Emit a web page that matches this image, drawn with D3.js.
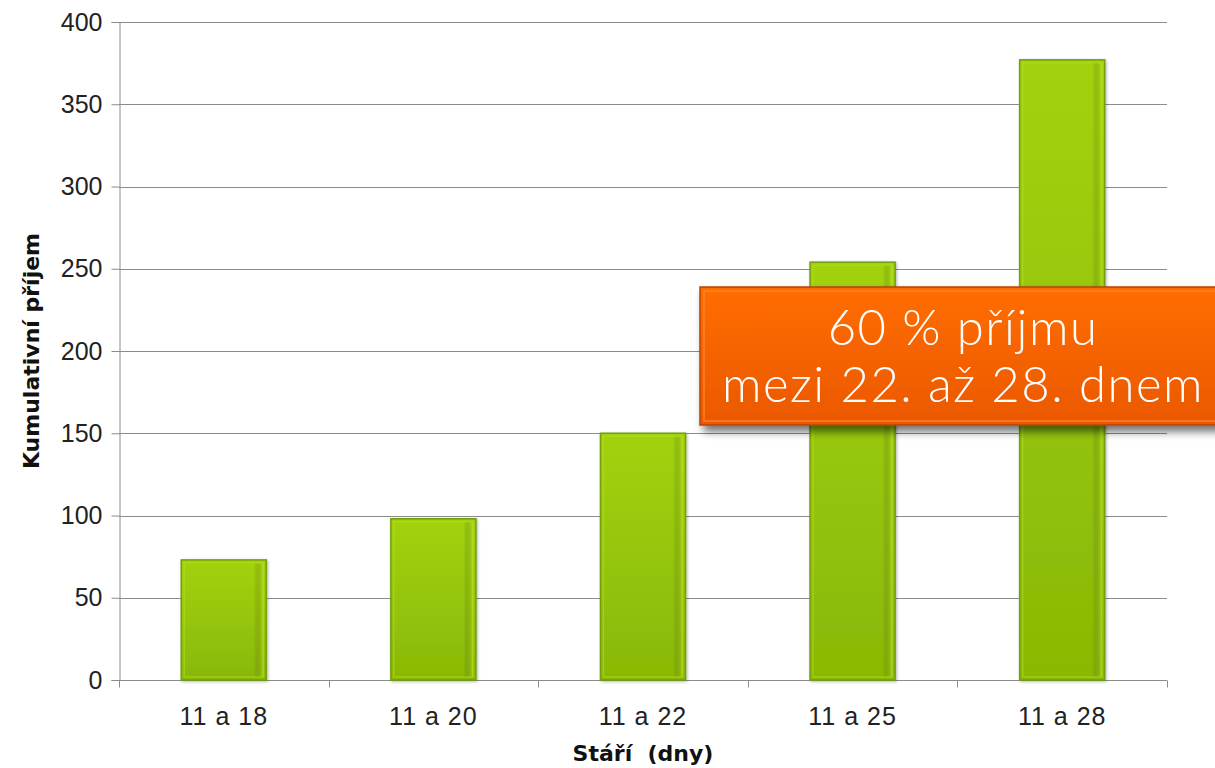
<!DOCTYPE html>
<html>
<head>
<meta charset="utf-8">
<script src="https://cdn.jsdelivr.net/npm/d3@7"></script>
<style>
  html, body { margin: 0; padding: 0; background: #fff; }
  svg { display: block; }
</style>
</head>
<body>
<svg id="chart" width="1215" height="768"></svg>
<script>
// Cumulative income by age range
const categories = ["11 a 18", "11 a 20", "11 a 22", "11 a 25", "11 a 28"];
const values = [73, 98, 150, 254, 377];
const yTicks = [0, 50, 100, 150, 200, 250, 300, 350, 400];
const calloutLines = ["60 % příjmu", "mezi 22. až 28. dnem"];

const W = 1215, H = 768;
const margin = { top: 22, right: 48, bottom: 88, left: 119 };
const tickFont = "'Liberation Sans', Arial, sans-serif";
const titleFont = "'DejaVu Sans', 'Liberation Sans', sans-serif";
const svg = d3.select("#chart");
const defs = svg.append("defs");

const barGrad = defs.append("linearGradient").attr("id", "barGrad")
  .attr("x1", 0).attr("y1", 0).attr("x2", 0).attr("y2", 1);
barGrad.append("stop").attr("offset", "0%").attr("stop-color", "#a2d20a");
barGrad.append("stop").attr("offset", "100%").attr("stop-color", "#89b806");

const sideGrad = defs.append("linearGradient").attr("id", "sideGrad")
  .attr("x1", 0).attr("y1", 0).attr("x2", 1).attr("y2", 0);
sideGrad.append("stop").attr("offset", "0%").attr("stop-color", "#000").attr("stop-opacity", 0.0);
sideGrad.append("stop").attr("offset", "88%").attr("stop-color", "#000").attr("stop-opacity", 0.0);
sideGrad.append("stop").attr("offset", "100%").attr("stop-color", "#c8f030").attr("stop-opacity", 0.45);

const boxGrad = defs.append("linearGradient").attr("id", "boxGrad")
  .attr("x1", 0).attr("y1", 0).attr("x2", 0).attr("y2", 1);
boxGrad.append("stop").attr("offset", "0%").attr("stop-color", "#ff6d05");
boxGrad.append("stop").attr("offset", "100%").attr("stop-color", "#eb5800");

const shadow = defs.append("filter").attr("id", "boxShadow")
  .attr("x", "-10%").attr("y", "-20%").attr("width", "130%").attr("height", "150%");
shadow.append("feGaussianBlur").attr("in", "SourceAlpha").attr("stdDeviation", 4).attr("result", "b");
shadow.append("feOffset").attr("in", "b").attr("dx", 4).attr("dy", 6).attr("result", "o");
shadow.append("feComponentTransfer").attr("in", "o").attr("result", "s")
  .append("feFuncA").attr("type", "linear").attr("slope", 0.55);
const m1 = shadow.append("feMerge");
m1.append("feMergeNode").attr("in", "s");
m1.append("feMergeNode").attr("in", "SourceGraphic");

const barShadow = defs.append("filter").attr("id", "barShadow")
  .attr("x", "-10%").attr("y", "-10%").attr("width", "130%").attr("height", "130%");
barShadow.append("feGaussianBlur").attr("in", "SourceAlpha").attr("stdDeviation", 1.5).attr("result", "b");
barShadow.append("feOffset").attr("in", "b").attr("dx", 1).attr("dy", 1).attr("result", "o");
barShadow.append("feComponentTransfer").attr("in", "o").attr("result", "s")
  .append("feFuncA").attr("type", "linear").attr("slope", 0.3);
const m2 = barShadow.append("feMerge");
m2.append("feMergeNode").attr("in", "s");
m2.append("feMergeNode").attr("in", "SourceGraphic");

const x = d3.scaleBand().domain(categories)
  .range([margin.left, W - margin.right]).paddingInner(0.594).paddingOuter(0.297);
const y = d3.scaleLinear().domain([0, 400]).range([H - margin.bottom, margin.top]);

// Gridlines
svg.append("g").selectAll("line").data(yTicks.filter(d => d > 0)).join("line")
  .attr("x1", margin.left).attr("x2", W - margin.right)
  .attr("y1", d => Math.round(y(d)) + 0.5).attr("y2", d => Math.round(y(d)) + 0.5)
  .attr("stroke", "#8c8c8c").attr("stroke-width", 1);

// Y axis
const yAxis = svg.append("g").attr("transform", `translate(${margin.left + 0.5},0)`)
  .call(d3.axisLeft(y).tickValues(yTicks).tickSize(8).tickPadding(9));
yAxis.select(".domain").attr("stroke", "#8c8c8c");
yAxis.selectAll(".tick line").attr("stroke", "#8c8c8c");
yAxis.selectAll(".tick text").attr("font-size", 25).attr("fill", "#222")
  .attr("font-family", tickFont);

// X axis with ticks at band boundaries
const xAxisG = svg.append("g").attr("transform", `translate(0,${Math.round(y(0)) + 0.5})`);
xAxisG.append("line").attr("x1", margin.left).attr("x2", W - margin.right)
  .attr("stroke", "#8c8c8c");
const step = x.step();
const bounds = d3.range(categories.length + 1).map(i => margin.left + i * step);
xAxisG.selectAll(".xt").data(bounds).join("line").attr("class", "xt")
  .attr("x1", d => Math.round(d) + 0.5).attr("x2", d => Math.round(d) + 0.5)
  .attr("y1", 0).attr("y2", 7).attr("stroke", "#8c8c8c");
xAxisG.selectAll(".xl").data(categories).join("text").attr("class", "xl")
  .attr("x", d => x(d) + x.bandwidth() / 2).attr("y", 44)
  .attr("text-anchor", "middle").attr("font-size", 25).attr("fill", "#222")
  .attr("font-family", tickFont).attr("letter-spacing", 1)
  .text(d => d);

// Bars
const bars = svg.append("g").selectAll("g").data(values).join("g")
  .attr("filter", "url(#barShadow)");
bars.append("rect")
  .attr("x", (d, i) => x(categories[i]))
  .attr("y", d => y(d))
  .attr("width", x.bandwidth())
  .attr("height", d => y(0) - y(d))
  .attr("fill", "url(#barGrad)")
  .attr("stroke", "#739e10").attr("stroke-width", 1.5);
bars.append("rect")
  .attr("x", (d, i) => x(categories[i]) + 3)
  .attr("y", d => y(d) + 3)
  .attr("width", x.bandwidth() - 6)
  .attr("height", d => y(0) - y(d) - 6)
  .attr("fill", "url(#sideGrad)")
  .attr("stroke", "#b6e21e").attr("stroke-opacity", 0.5).attr("stroke-width", 1.5);

// Axis titles
svg.append("text")
  .attr("transform", `translate(39,${(y(0) + y(400)) / 2}) rotate(-90)`)
  .attr("text-anchor", "middle").attr("font-size", 22).attr("font-weight", "bold")
  .attr("font-family", titleFont).attr("fill", "#111")
  .text("Kumulativní příjem");
svg.append("text")
  .attr("x", 643).attr("y", 761)
  .attr("text-anchor", "middle").attr("font-size", 22).attr("font-weight", "bold")
  .attr("font-family", titleFont).attr("fill", "#111")
  .attr("xml:space", "preserve")
  .text("Stáří  (dny)");

// Callout box
const box = { x: 700, y: 287, w: 540, h: 138 };
const cg = svg.append("g");
cg.append("rect").attr("x", box.x).attr("y", box.y).attr("width", box.w).attr("height", box.h)
  .attr("fill", "url(#boxGrad)").attr("stroke", "#b84400").attr("stroke-width", 1.5)
  .attr("filter", "url(#boxShadow)");
cg.append("rect").attr("x", box.x + 4).attr("y", box.y + 4).attr("width", box.w - 8).attr("height", box.h - 8)
  .attr("fill", "none").attr("stroke", "#ff8a30").attr("stroke-opacity", 0.6).attr("stroke-width", 2);
cg.selectAll("text").data(calloutLines).join("text")
  .attr("x", 963).attr("y", (d, i) => 345 + i * 57)
  .attr("text-anchor", "middle").attr("font-size", 49).attr("font-weight", 300)
  .attr("font-family", "Lato, 'Open Sans', sans-serif").attr("fill", "#fff")
  .attr("letter-spacing", 1.5)
  .text(d => d);
</script>
</body>
</html>
